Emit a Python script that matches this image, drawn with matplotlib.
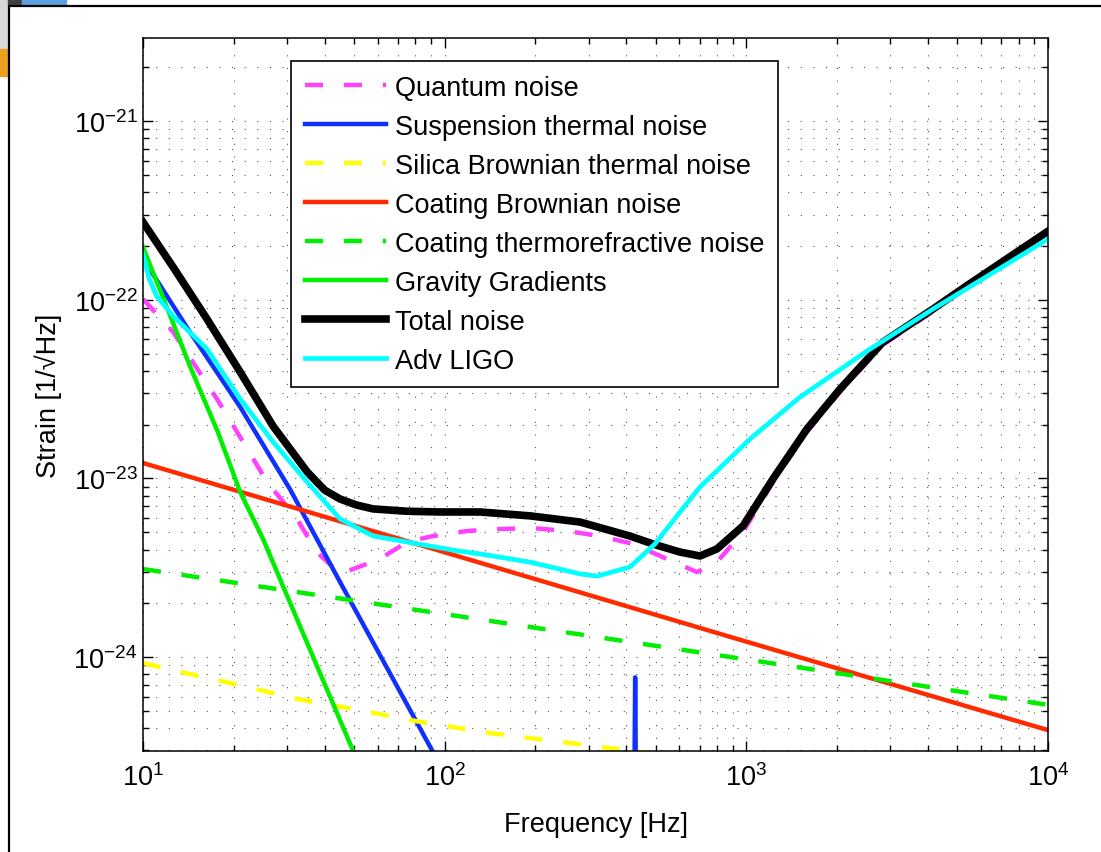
import matplotlib
matplotlib.use("Agg")
import matplotlib.pyplot as plt
from matplotlib.patches import Rectangle
from matplotlib.lines import Line2D
from matplotlib.ticker import LogLocator, NullFormatter

plt.rcParams['font.family'] = ['Liberation Sans', 'DejaVu Sans']
plt.rcParams['mathtext.fontset'] = 'custom'
plt.rcParams['mathtext.rm'] = 'Liberation Sans'
plt.rcParams['mathtext.it'] = 'Liberation Sans:italic'
plt.rcParams['mathtext.bf'] = 'Liberation Sans:bold'
plt.rcParams['lines.scale_dashes'] = False

# ---- data (frequency in Hz, strain in 1/sqrt(Hz)) ----
quantum_f = [10, 12.6, 17.6, 20.5, 25.8, 32.4, 37.7, 45.0, 61.0, 75.0, 91.5,
             119, 152, 196, 254, 327, 421, 546, 686, 799, 975,
             1225, 1588, 2043, 2837, 4155, 5384, 10000]
quantum_h = [1.01e-22, 6.59e-23, 2.78e-23, 1.82e-23, 9.55e-24, 5.93e-24, 3.87e-24,
             2.92e-24, 3.54e-24, 4.41e-24, 4.76e-24, 5.08e-24, 5.21e-24, 5.27e-24,
             5.08e-24, 4.76e-24, 4.30e-24, 3.54e-24, 2.99e-24, 3.40e-24, 5.01e-24,
             9.5e-24, 1.82e-23, 3.05e-23, 5.6e-23, 8.6e-23, 1.2e-22, 2.35e-22]

susp_f = [10, 14.3, 21.0, 30.7, 45.0, 91.4, 100, 200, 420, 428, 436, 1000]
susp_h = [1.70e-22, 6.61e-23, 2.51e-23, 8.71e-24, 2.63e-24, 2.95e-25, 2.24e-25,
          3e-26, 1e-26, 7.7e-25, 1e-26, 1e-27]

silica_f = [10, 13.3, 20.2, 32.4, 51.6, 82.8, 141, 292, 479, 10000]
silica_h = [9.27e-25, 8.26e-25, 7.06e-25, 5.83e-25, 5.06e-25, 4.34e-25,
            3.76e-25, 3.22e-25, 2.90e-25, 1.5e-25]

coat_br_f = [10, 100, 1000, 10000]
coat_br_h = [1.22e-23, 3.86e-24, 1.22e-24, 3.9e-25]

coat_tr_f = [10, 100, 1000, 10000]
coat_tr_h = [3.11e-24, 1.74e-24, 9.7e-25, 5.4e-25]

grav_f = [10, 11.6, 14.3, 17.7, 21.0, 25.0, 32.4, 49.7, 60]
grav_h = [1.97e-22, 1.05e-22, 4.26e-23, 1.82e-23, 8.39e-24, 4.58e-24,
          1.63e-24, 2.99e-25, 1.4e-25]

total_f = [10, 12.6, 16.3, 21.0, 27.0, 35.0, 40.0, 45.0, 51.0, 57.9, 75.0, 96.5,
           131, 192, 281, 411, 500, 603, 702, 799, 975, 1225, 1588, 2043, 2837,
           4155, 5384, 10000]
total_h = [2.72e-22, 1.52e-22, 7.8e-23, 3.94e-23, 1.96e-23, 1.09e-23, 8.6e-24,
           7.67e-24, 7.1e-24, 6.75e-24, 6.55e-24, 6.49e-24, 6.49e-24, 6.17e-24,
           5.70e-24, 4.76e-24, 4.25e-24, 3.87e-24, 3.68e-24, 4.03e-24, 5.42e-24,
           9.93e-24, 1.89e-23, 3.16e-23, 5.79e-23, 8.87e-23, 1.2e-22, 2.42e-22]

aligo_f = [10, 10.5, 11.1, 12.6, 16.3, 21.0, 27.0, 35.0, 45.0, 57.9, 75.0, 110,
           131, 192, 281, 320, 411, 498, 603, 702, 1028, 1505, 2510, 4155, 6085,
           10000]
aligo_h = [1.80e-22, 1.30e-22, 1.05e-22, 8.11e-23, 5.30e-23, 2.78e-23, 1.60e-23,
           9.55e-24, 5.93e-24, 4.76e-24, 4.41e-24, 3.93e-24, 3.78e-24, 3.40e-24,
           2.92e-24, 2.84e-24, 3.19e-24, 4.30e-24, 6.49e-24, 8.95e-24, 1.66e-23,
           2.85e-23, 5.16e-23, 8.87e-23, 1.31e-22, 2.19e-22]

labels = ["Quantum noise", "Suspension thermal noise", "Silica Brownian thermal noise",
          "Coating Brownian noise", "Coating thermorefractive noise",
          "Gravity Gradients", "Total noise", "Adv LIGO"]

fig = plt.figure(figsize=(11.01, 8.53), dpi=100)

# screenshot frame and the bit of desktop icon in the corner
fig.patches.append(Rectangle((0, 1 - 50 / 853), 8 / 1101, 50 / 853,
                             transform=fig.transFigure, color='#d8d8d8', zorder=0))
fig.patches.append(Rectangle((0, 1 - 77 / 853), 8 / 1101, 27 / 853,
                             transform=fig.transFigure, color='#e8a020', zorder=0))
fig.patches.append(Rectangle((8 / 1101, 1 - 6 / 853), 14 / 1101, 6 / 853,
                             transform=fig.transFigure, color='#404040', zorder=0))
fig.patches.append(Rectangle((22 / 1101, 1 - 6 / 853), 44 / 1101, 6 / 853,
                             transform=fig.transFigure, color='#5aa0e0', zorder=0))
fig.lines.append(Line2D([8.5 / 1101, 8.5 / 1101, 1.0], [0.0, 1 - 7 / 853, 1 - 7 / 853],
                        transform=fig.transFigure, color='black', lw=1.6))

ax = fig.add_axes([143 / 1101, 1 - 752 / 853, 905 / 1101, 713 / 853])
ax.set_xscale('log')
ax.set_yscale('log')

dash = (0, (13, 15))
ax.plot(quantum_f, quantum_h, color='#ff40ff', lw=3.2, ls=dash, label=labels[0])
ax.plot(susp_f, susp_h, color='#1030ff', lw=3.2, label=labels[1])
ax.plot(silica_f, silica_h, color='#ffff00', lw=3.2, ls=dash, label=labels[2])
ax.plot(coat_br_f, coat_br_h, color='#ff2a00', lw=3.2, label=labels[3])
ax.plot(coat_tr_f, coat_tr_h, color='#00ee00', lw=3.2, ls=dash, label=labels[4])
ax.plot(grav_f, grav_h, color='#00ee00', lw=3.2, label=labels[5])
ax.plot(total_f, total_h, color='black', lw=5.5, label=labels[6])
ax.plot(aligo_f, aligo_h, color='#00ffff', lw=3.4, label=labels[7])

ax.set_xlim(10, 1e4)
ax.set_ylim(2.98e-25, 2.92e-21)

ax.xaxis.set_major_locator(LogLocator(base=10, numticks=10))
ax.xaxis.set_minor_locator(LogLocator(base=10, subs=range(2, 10), numticks=20))
ax.yaxis.set_major_locator(LogLocator(base=10, numticks=10))
ax.yaxis.set_minor_locator(LogLocator(base=10, subs=range(2, 10), numticks=20))
ax.xaxis.set_minor_formatter(NullFormatter())
ax.yaxis.set_minor_formatter(NullFormatter())

ax.tick_params(which='both', direction='in', top=True, right=True, width=1.0)
ax.tick_params(which='major', length=7, labelsize=19.5)
ax.tick_params(which='minor', length=4)
ax.tick_params(axis='x', which='major', pad=9)
ax.tick_params(axis='y', which='major', pad=4)
for s in ax.spines.values():
    s.set_linewidth(1.1)

ax.grid(True, which='both', color='#555555', lw=0.8, ls=(0, (0.8, 8.3)))
ax.set_axisbelow(True)

ax.set_xlabel("Frequency [Hz]", fontsize=19.5)
ax.set_ylabel("Strain [1/\u221aHz]", fontsize=19.5)
ax.xaxis.set_label_coords(0.5, -0.084)
ax.yaxis.set_label_coords(-0.09, 0.5)

leg = ax.legend(loc='upper left', bbox_to_anchor=(0.1635, 0.9677), borderaxespad=0,
                fontsize=19.5, handlelength=3.0, handletextpad=0.35,
                labelspacing=0.48, borderpad=0.5, fancybox=False, framealpha=1,
                edgecolor='black')
leg.get_frame().set_linewidth(1.2)

fig.savefig("out.png", dpi=100)
